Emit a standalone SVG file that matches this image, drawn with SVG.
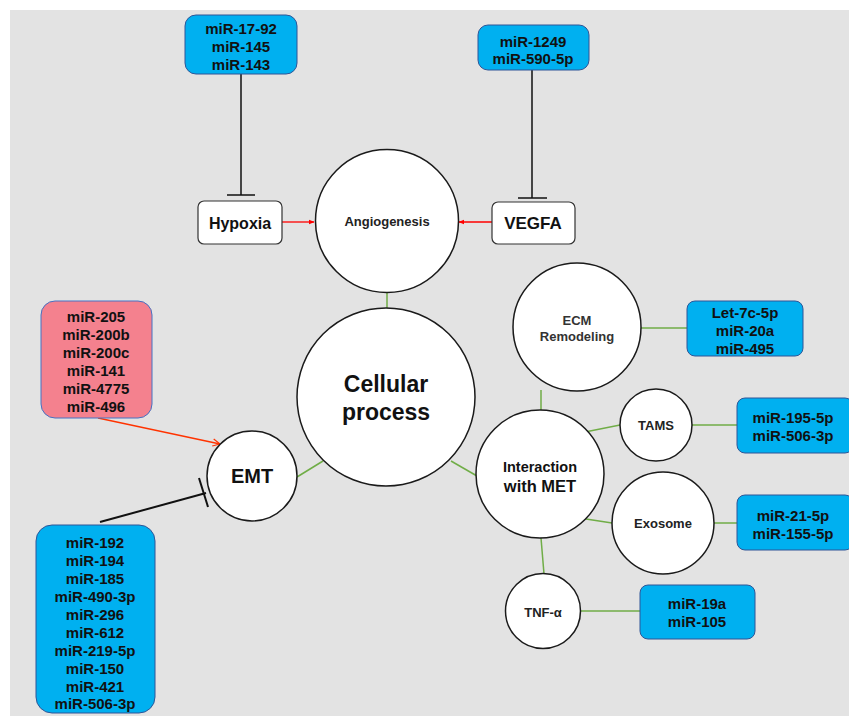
<svg xmlns="http://www.w3.org/2000/svg" width="849" height="716" viewBox="0 0 849 716">
<style>
.bg{fill:#e3e3e3}
.mir{fill:#00b0f0;stroke:#2f5597;stroke-width:1}
.pink{fill:#f4818e;stroke:#4472c4;stroke-width:1}
.circ{fill:#fff;stroke:#1a1a1a;stroke-width:1.5}
.rbox{fill:#fff;stroke:#333;stroke-width:1.2}
.t{font-family:"Liberation Sans",Arial,sans-serif;font-weight:bold;fill:#111;text-anchor:middle;dominant-baseline:central}
.m{font-size:15px}
.g{stroke:#70ad47;stroke-width:1.5;fill:none}
.inh{stroke:#111;stroke-width:1.5;fill:none}
.red{stroke:#ff0000;stroke-width:1.3;fill:none}
</style>
<defs>
<marker id="ra" viewBox="0 0 10 10" refX="9" refY="5" markerWidth="6" markerHeight="6" orient="auto" markerUnits="userSpaceOnUse">
<path d="M0,1 L10,5 L0,9 z" fill="#ff0000"/>
</marker>
<marker id="ro" viewBox="0 0 10 10" refX="9" refY="5" markerWidth="9" markerHeight="9" orient="auto" markerUnits="userSpaceOnUse">
<path d="M1,1 L9,5 L1,9" fill="none" stroke="#ff3300" stroke-width="1.3"/>
</marker>
</defs>
<rect x="0" y="0" width="849" height="716" fill="#fff"/>
<rect class="bg" x="10" y="10" width="839" height="706"/>

<g id="connectors">
<line class="inh" x1="241" y1="74" x2="241" y2="195"/>
<line class="inh" x1="227" y1="195" x2="255" y2="195"/>
<line class="inh" x1="532" y1="70" x2="532" y2="198"/>
<line class="inh" x1="518" y1="198" x2="547" y2="198"/>
<line class="red" x1="282" y1="222" x2="314" y2="222" marker-end="url(#ra)"/>
<line class="red" x1="492" y1="222" x2="459" y2="222" marker-end="url(#ra)"/>
<line class="g" x1="387" y1="292" x2="387" y2="308"/>
<line class="red" x1="98" y1="418" x2="220" y2="444" marker-end="url(#ro)" style="stroke:#ff3300"/>
<line class="inh" x1="100" y1="522" x2="206" y2="493" style="stroke-width:2"/>
<line class="inh" x1="199" y1="478" x2="208" y2="507" style="stroke-width:2"/>
<line class="g" x1="297" y1="477" x2="323" y2="461"/>
<line class="g" x1="451" y1="461" x2="477" y2="476"/>
<line class="g" x1="641" y1="328" x2="687" y2="328"/>
<line class="g" x1="541" y1="390" x2="541" y2="410"/>
<line class="g" x1="585" y1="432" x2="620" y2="425"/>
<line class="g" x1="692" y1="425" x2="737" y2="425"/>
<line class="g" x1="586" y1="519" x2="612" y2="523"/>
<line class="g" x1="714" y1="523" x2="737" y2="523"/>
<line class="g" x1="541" y1="538" x2="544" y2="574"/>
<line class="g" x1="581" y1="611" x2="640" y2="611"/>
</g>

<g id="mirA">
<rect class="mir" x="185" y="15" width="112" height="59" rx="11"/>
<text class="t m" x="241" y="28">miR-17-92</text>
<text class="t m" x="241" y="46">miR-145</text>
<text class="t m" x="241" y="64">miR-143</text>
</g>
<g id="mirB">
<rect class="mir" x="478" y="25" width="111" height="45" rx="10"/>
<text class="t m" x="533" y="41">miR-1249</text>
<text class="t m" x="533" y="58">miR-590-5p</text>
</g>
<g id="hypoxia">
<rect class="rbox" x="198" y="201" width="84" height="43" rx="6"/>
<text class="t" x="240" y="223" font-size="16">Hypoxia</text>
</g>
<g id="vegfa">
<rect class="rbox" x="492" y="202" width="83" height="42" rx="6"/>
<text class="t" x="533" y="223" font-size="17">VEGFA</text>
</g>
<g id="angiogenesis">
<circle class="circ" cx="387" cy="221" r="71.5"/>
<text class="t" x="387" y="221" font-size="13" style="fill:#222">Angiogenesis</text>
</g>
<g id="cellular">
<circle class="circ" cx="386" cy="397" r="89"/>
<text class="t" x="386" y="384" font-size="23">Cellular</text>
<text class="t" x="386" y="412" font-size="23">process</text>
</g>
<g id="mirPink">
<rect class="pink" x="41" y="301" width="111" height="117" rx="14"/>
<text class="t m" x="96" y="316">miR-205</text>
<text class="t m" x="96" y="334">miR-200b</text>
<text class="t m" x="96" y="352">miR-200c</text>
<text class="t m" x="96" y="370">miR-141</text>
<text class="t m" x="96" y="388">miR-4775</text>
<text class="t m" x="96" y="406">miR-496</text>
</g>
<g id="emt">
<circle class="circ" cx="252" cy="476" r="45"/>
<text class="t" x="252" y="476" font-size="20">EMT</text>
</g>
<g id="mirEMT">
<rect class="mir" x="36" y="525" width="119" height="188" rx="16"/>
<text class="t m" x="95" y="542">miR-192</text>
<text class="t m" x="95" y="560">miR-194</text>
<text class="t m" x="95" y="578">miR-185</text>
<text class="t m" x="95" y="596">miR-490-3p</text>
<text class="t m" x="95" y="614">miR-296</text>
<text class="t m" x="95" y="632">miR-612</text>
<text class="t m" x="95" y="650">miR-219-5p</text>
<text class="t m" x="95" y="668">miR-150</text>
<text class="t m" x="95" y="686">miR-421</text>
<text class="t m" x="95" y="703">miR-506-3p</text>
</g>
<g id="ecm">
<circle class="circ" cx="577" cy="327" r="64"/>
<text class="t" x="577" y="320" font-size="13" style="fill:#333">ECM</text>
<text class="t" x="577" y="336" font-size="13" style="fill:#333">Remodeling</text>
</g>
<g id="mirECM">
<rect class="mir" x="687" y="301" width="116" height="55" rx="8"/>
<text class="t m" x="745" y="312">Let-7c-5p</text>
<text class="t m" x="745" y="330">miR-20a</text>
<text class="t m" x="745" y="348">miR-495</text>
</g>
<g id="interaction">
<circle class="circ" cx="540" cy="474" r="64"/>
<text class="t" x="540" y="467" font-size="14.5">Interaction</text>
<text class="t" x="540" y="486" font-size="16.5">with MET</text>
</g>
<g id="tams">
<circle class="circ" cx="656" cy="425" r="36"/>
<text class="t" x="656" y="425" font-size="13" style="fill:#222">TAMS</text>
</g>
<g id="mirTAMS">
<rect class="mir" x="737" y="398" width="116" height="55" rx="8"/>
<text class="t m" x="793" y="417">miR-195-5p</text>
<text class="t m" x="793" y="435">miR-506-3p</text>
</g>
<g id="exosome">
<circle class="circ" cx="663" cy="523" r="51"/>
<text class="t" x="663" y="523" font-size="13" style="fill:#222">Exosome</text>
</g>
<g id="mirExo">
<rect class="mir" x="737" y="495" width="116" height="55" rx="8"/>
<text class="t m" x="793" y="515">miR-21-5p</text>
<text class="t m" x="793" y="533">miR-155-5p</text>
</g>
<g id="tnf">
<circle class="circ" cx="543" cy="611" r="37.5"/>
<text class="t" x="543" y="612" font-size="13" style="fill:#222">TNF-α</text>
</g>
<g id="mirTNF">
<rect class="mir" x="640" y="585" width="115" height="54" rx="8"/>
<text class="t m" x="697" y="603">miR-19a</text>
<text class="t m" x="697" y="621">miR-105</text>
</g>
</svg>
